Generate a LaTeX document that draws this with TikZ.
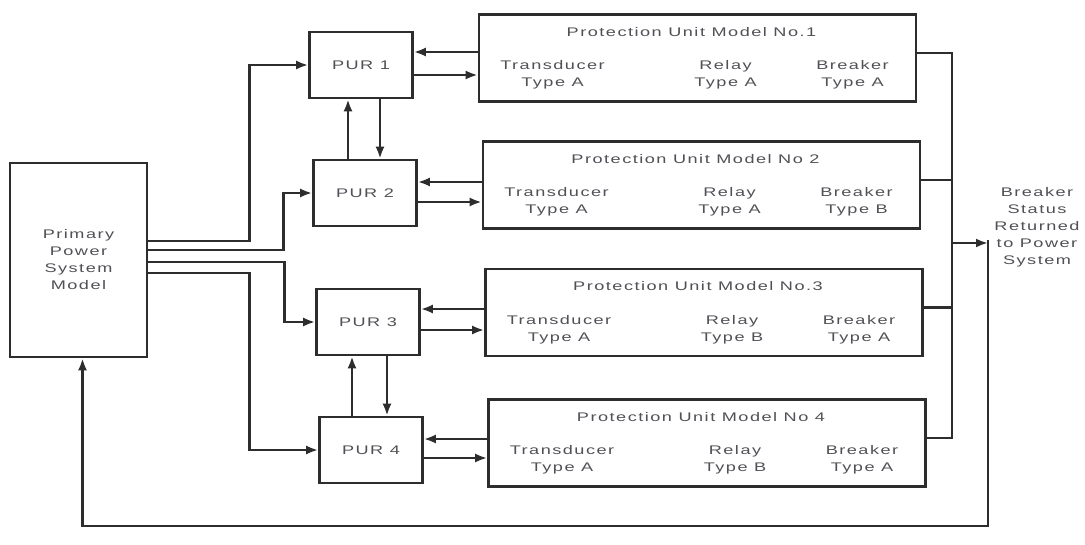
\documentclass[tikz,border=0pt]{standalone}
\usepackage{fontspec}
\newfontfamily\unitfont[FakeStretch=1.45,LetterSpace=12]{Liberation Sans}
\usetikzlibrary{arrows.meta, positioning, calc}
\definecolor{inkgrey}{RGB}{45,45,45}
\definecolor{textgrey}{RGB}{80,80,86}

\begin{document}
\begin{tikzpicture}[
    x=1pt, y=-1pt,
    blk/.style={draw=inkgrey,line width=2.6pt,minimum width=137pt,minimum height=194pt,inner sep=0pt},
    pur/.style={draw=inkgrey,line width=2.6pt,minimum width=103pt,minimum height=66pt,inner sep=0pt},
    unit/.style={draw=inkgrey,line width=2.6pt,minimum width=437pt,minimum height=87pt,inner sep=0pt},
    txt/.style={text=textgrey,font=\unitfont\fontsize{12.5}{17}\selectfont,align=center,inner sep=0pt},
    wire/.style={inkgrey,line width=2.6pt},
    arr/.style={wire,-{Latex[length=12pt,width=9pt]}}
]
  \useasboundingbox (0,0) rectangle (1085,544);

  % Power system model and relay processors
  \node[blk,txt] (ppsm) at (78.5,260) {Primary\\Power\\System\\Model};
  \node[pur,txt] (pur1) at (361,65) {PUR 1};
  \node[pur,txt] (pur2) at (365,193) {PUR 2};
  \node[pur,txt] (pur3) at (368,322) {PUR 3};
  \node[pur,txt] (pur4) at (371,450) {PUR 4};

  % Protection unit models
  \node[unit] (pu1) at (697.5,58) {};
  \node[txt] (pu1t) at ([xshift=-6pt,yshift=26pt]pu1.center) {Protection Unit Model No.1};
  \node[txt] (pu1a) at ([xshift=-145pt,yshift=-17pt]pu1.center) {Transducer\\Type A};
  \node[txt] (pu1b) at ([xshift=28pt,yshift=-17pt]pu1.center) {Relay\\Type A};
  \node[txt] (pu1c) at ([xshift=155pt,yshift=-17pt]pu1.center) {Breaker\\Type A};

  \node[unit] (pu2) at (701.5,185) {};
  \node[txt] (pu2t) at ([xshift=-6pt,yshift=26pt]pu2.center) {Protection Unit Model No 2};
  \node[txt] (pu2a) at ([xshift=-145pt,yshift=-17pt]pu2.center) {Transducer\\Type A};
  \node[txt] (pu2b) at ([xshift=28pt,yshift=-17pt]pu2.center) {Relay\\Type A};
  \node[txt] (pu2c) at ([xshift=155pt,yshift=-17pt]pu2.center) {Breaker\\Type B};

  \node[unit] (pu3) at (704,312.5) {};
  \node[txt] (pu3t) at ([xshift=-6pt,yshift=26pt]pu3.center) {Protection Unit Model No.3};
  \node[txt] (pu3a) at ([xshift=-145pt,yshift=-17pt]pu3.center) {Transducer\\Type A};
  \node[txt] (pu3b) at ([xshift=28pt,yshift=-17pt]pu3.center) {Relay\\Type B};
  \node[txt] (pu3c) at ([xshift=155pt,yshift=-17pt]pu3.center) {Breaker\\Type A};

  \node[unit] (pu4) at (707,443) {};
  \node[txt] (pu4t) at ([xshift=-6pt,yshift=26pt]pu4.center) {Protection Unit Model No 4};
  \node[txt] (pu4a) at ([xshift=-145pt,yshift=-17pt]pu4.center) {Transducer\\Type A};
  \node[txt] (pu4b) at ([xshift=28pt,yshift=-17pt]pu4.center) {Relay\\Type B};
  \node[txt] (pu4c) at ([xshift=155pt,yshift=-17pt]pu4.center) {Breaker\\Type A};

  \node[txt] (status) at (1037,227) {Breaker\\Status\\Returned\\to Power\\System};

  % Model outputs into the relays
  \draw[arr] ([yshift=19pt]ppsm.east) -- ++(101,0) |- (pur1.west);
  \draw[arr] ([yshift=10pt]ppsm.east) -- ++(135,0) |- (pur2.west);
  \draw[arr] ([yshift=-2pt]ppsm.east) -- ++(136,0) |- (pur3.west);
  \draw[arr] ([yshift=-13pt]ppsm.east) -- ++(101,0) |- (pur4.west);

  % Relay <-> protection unit links
  \draw[arr] ([yshift=13pt]pur1.east -| pu1.west) -- ([yshift=13pt]pur1.east);
  \draw[arr] ([yshift=-10pt]pur1.east) -- ([yshift=-10pt]pur1.east -| pu1.west);
  \draw[arr] ([yshift=11pt]pur2.east -| pu2.west) -- ([yshift=11pt]pur2.east);
  \draw[arr] ([yshift=-9pt]pur2.east) -- ([yshift=-9pt]pur2.east -| pu2.west);
  \draw[arr] ([yshift=13pt]pur3.east -| pu3.west) -- ([yshift=13pt]pur3.east);
  \draw[arr] ([yshift=-8pt]pur3.east) -- ([yshift=-8pt]pur3.east -| pu3.west);
  \draw[arr] ([yshift=11pt]pur4.east -| pu4.west) -- ([yshift=11pt]pur4.east);
  \draw[arr] ([yshift=-8pt]pur4.east) -- ([yshift=-8pt]pur4.east -| pu4.west);

  % Relay <-> relay links
  \draw[arr] ([xshift=-13pt]pur1.south |- pur2.north) -- ([xshift=-13pt]pur1.south);
  \draw[arr] ([xshift=19pt]pur1.south) -- ([xshift=19pt]pur1.south |- pur2.north);
  \draw[arr] ([xshift=-16pt]pur3.south |- pur4.north) -- ([xshift=-16pt]pur3.south);
  \draw[arr] ([xshift=19pt]pur3.south) -- ([xshift=19pt]pur3.south |- pur4.north);

  % Breaker status bus and return path
  \coordinate (busbot) at (952,438);
  \coordinate (ret) at (988,243);
  \coordinate (home) at (990,526);
  \draw[wire] ([yshift=5pt]pu1.east) -| (busbot) -- ([yshift=5pt]pu4.east);
  \draw[wire] ([yshift=5pt]pu2.east) -- ([yshift=5pt]pu2.east -| busbot);
  \draw[wire] ([yshift=5pt]pu3.east) -- ([yshift=5pt]pu3.east -| busbot);
  \draw[arr] (ret -| busbot) -- (ret);
  \draw[arr] ([yshift=3pt]ret) -- (ret |- home) -| ([xshift=4pt]ppsm.south);
\end{tikzpicture}
\end{document}
